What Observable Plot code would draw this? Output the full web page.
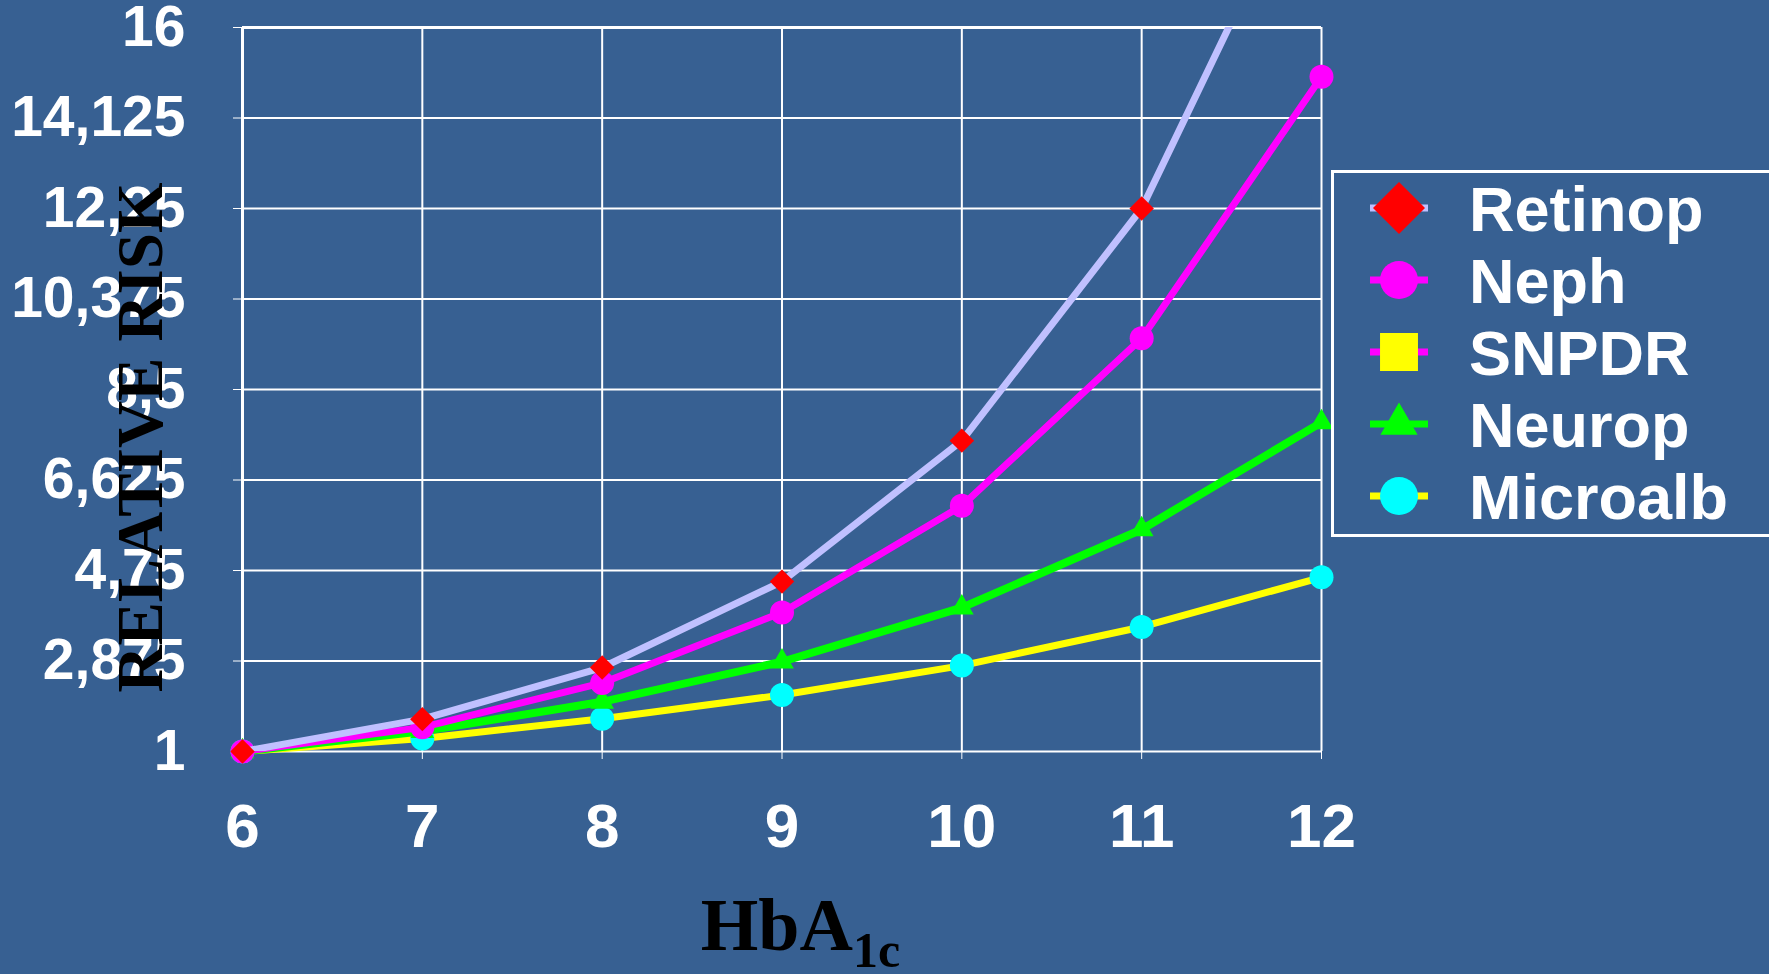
<!DOCTYPE html>
<html><head><meta charset="utf-8">
<script src="https://cdn.jsdelivr.net/npm/d3@7"></script>
<script src="https://cdn.jsdelivr.net/npm/@observablehq/plot@0.6"></script>
<style>
html,body{margin:0;padding:0;background:#376092;overflow:hidden;}
#wrap{position:relative;width:1769px;height:974px;}
#legend{position:absolute;left:1331px;top:170px;width:470px;height:367px;border:3px solid #fff;box-sizing:border-box;}
</style></head><body><div id="wrap"></div>
<script>
// ---- data ----
const hba1c = [6, 7, 8, 9, 10, 11, 12];
const retinop  = [1, 1.67, 2.74, 4.52, 7.44, 12.25, 20.0];
const neph     = [1, 1.50, 2.42, 3.88, 6.09, 9.56, 14.98];
const snpdr    = []; // listed in the legend, no visible points
const neurop   = [1, 1.42, 2.03, 2.86, 3.98, 5.60, 7.82];
const microalb = [1, 1.27, 1.68, 2.17, 2.78, 3.58, 4.61];
const seriesNames = ["Retinop", "Neph", "SNPDR", "Neurop", "Microalb"];
const seriesValues = [retinop, neph, snpdr, neurop, microalb];
const yTicks = [1, 2.875, 4.75, 6.625, 8.5, 10.375, 12.25, 14.125, 16];
const yTickLabels = ["1", "2,875", "4,75", "6,625", "8,5", "10,375", "12,25", "14,125", "16"];
const xTickLabels = ["6", "7", "8", "9", "10", "11", "12"];
const xTitle = "HbA", xTitleSub = "1c";
const yTitle = "RELATIVE RISK";

// ---- styles ----
const styles = {
  Retinop:  {line: "#C0C0FF", fill: "#FF0000", symbol: "diamond2", r: 11, lr: 23.4, w: 7},
  Neph:     {line: "#FF00FF", fill: "#FF00FF", symbol: "circle",   r: 12, lr: 19,   w: 7},
  SNPDR:    {line: "#FF00FF", fill: "#FFFF00", symbol: "square",   r: 10, lr: 21.4, w: 7},
  Neurop:   {line: "#00FF00", fill: "#00FF00", symbol: "triangle", r: 8.8, lr: 13.8, w: 8},
  Microalb: {line: "#FFFF00", fill: "#00FFFF", symbol: "circle",   r: 12, lr: 19,   w: 7}
};

const table = seriesNames.map((name, k) => seriesValues[k].map((v, i) => ({x: hba1c[i], y: v, series: name})));

const seriesMarks = [];
for (let k = seriesNames.length - 1; k >= 0; k--) {
  const name = seriesNames[k], st = styles[name], d = table[k];
  if (!d.length) continue;
  seriesMarks.push(Plot.line(d, {x: "x", y: "y", stroke: st.line, strokeWidth: st.w, strokeLinejoin: "round", clip: name === "Retinop"}));
  seriesMarks.push(Plot.dot(d.filter(p => p.y <= 16), {x: "x", y: "y", fill: st.fill, stroke: "none", symbol: st.symbol, r: st.r}));
}

const chart = Plot.plot({
  width: 1769, height: 974,
  marginLeft: 242, marginRight: 448, marginTop: 27, marginBottom: 223,
  style: {background: "transparent", fontFamily: "Liberation Sans", overflow: "visible"},
  x: {domain: [6, 12]},
  y: {domain: [1, 16]},
  marks: [
    Plot.gridX(hba1c, {stroke: "white", strokeOpacity: 1, strokeWidth: 2}),
    Plot.gridY(yTicks, {stroke: "white", strokeOpacity: 1, strokeWidth: 2}),
    Plot.ruleY([16], {stroke: "white", strokeWidth: 3}),
    Plot.ruleX([6], {stroke: "white", strokeWidth: 3}),
    Plot.axisX(hba1c, {tickSize: 8, tickPadding: 43, fontSize: 62, fontWeight: "bold", color: "white", label: null,
      tickFormat: d => xTickLabels[hba1c.indexOf(d)]}),
    Plot.axisY(yTicks, {tickSize: 9, tickPadding: 48, fontSize: 57, fontWeight: "bold", color: "white", label: null,
      tickFormat: d => yTickLabels[yTicks.indexOf(d)]}),
    ...seriesMarks,
    Plot.text([yTitle], {text: d => d, frameAnchor: "left", textAnchor: "middle", rotate: -90, dx: -101, dy: 48, fontSize: 65, fontWeight: "bold",
      fontFamily: "Liberation Serif", fill: "black"})
  ]
});

// ensure series line widths are applied on the paths themselves
const lineGroups = chart.querySelectorAll('g[aria-label="line"]');
const drawnNames = seriesNames.slice().reverse().filter((n, i, arr) => table[seriesNames.indexOf(n)].length);
lineGroups.forEach((g, i) => {
  const name = drawnNames[i];
  if (!name) return;
  g.querySelectorAll("path").forEach(p => p.style.strokeWidth = styles[name].w + "px");
});

// x axis title with subscript
const xs = chart.scale("x");
const svg = d3.select(chart);
const t = svg.append("text")
  .attr("x", xs.apply(9) + 19).attr("y", 950)
  .attr("text-anchor", "middle")
  .attr("font-family", "Liberation Serif").attr("font-weight", "bold").attr("font-size", 74)
  .attr("fill", "black");
t.append("tspan").text(xTitle);
t.append("tspan").attr("dy", 17).attr("font-size", 50).text(xTitleSub);

const wrap = document.getElementById("wrap");
wrap.appendChild(chart);

// legend
const legend = d3.select(wrap).append("div").attr("id", "legend");
const lsvg = legend.append("svg").attr("width", 464).attr("height", 361).style("display", "block");
const symbolMap = {diamond2: d3.symbolDiamond2, circle: d3.symbolCircle, square: d3.symbolSquare, triangle: d3.symbolTriangle};
seriesNames.forEach((name, i) => {
  const st = styles[name];
  const cy = 35 + i * 72;
  const g = lsvg.append("g").attr("transform", `translate(0,${cy})`);
  g.append("line").attr("x1", 36).attr("x2", 94).attr("stroke", st.line).attr("stroke-width", 7);
  g.append("path").attr("transform", "translate(65,0)")
    .attr("d", d3.symbol(symbolMap[st.symbol], Math.PI * st.lr * st.lr)())
    .attr("fill", st.fill);
  g.append("text").attr("x", 135).attr("dy", "0.36em")
    .attr("font-family", "Liberation Sans").attr("font-weight", "bold").attr("font-size", 63)
    .attr("fill", "white").text(name);
});
</script></body></html>
